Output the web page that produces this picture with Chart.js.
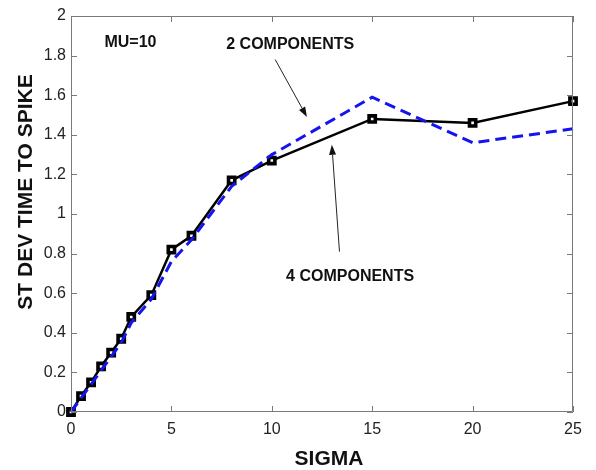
<!DOCTYPE html>
<html>
<head>
<meta charset="utf-8">
<script src="https://cdn.jsdelivr.net/npm/chart.js@4"></script>
<style>
  html, body { margin: 0; padding: 0; background: #fff; }
  #wrap { width: 596px; height: 470px; position: relative; }
</style>
</head>
<body>
<div id="wrap"><canvas id="c" width="596" height="470"></canvas></div>
<script>
// ---- data ----
const sigma4 = [0, 0.5, 1, 1.5, 2, 2.5, 3, 4, 5, 6, 8, 10, 15, 20, 25];
const stdev4 = [0, 0.08, 0.15, 0.23, 0.30, 0.37, 0.48, 0.59, 0.82, 0.89, 1.17, 1.27, 1.48, 1.46, 1.57];
const sigma2 = [0, 0.5, 1, 1.5, 2, 2.5, 3, 4, 5, 6, 8, 10, 15, 20, 25];
const stdev2 = [0, 0.07, 0.14, 0.21, 0.28, 0.35, 0.45, 0.57, 0.76, 0.87, 1.14, 1.30, 1.59, 1.36, 1.43];
const xTicks = [0, 5, 10, 15, 20, 25];
const xTickLabels = ['0', '5', '10', '15', '20', '25'];
const yTicks = [0, 0.2, 0.4, 0.6, 0.8, 1, 1.2, 1.4, 1.6, 1.8, 2];
const yTickLabels = ['0', '0.2', '0.4', '0.6', '0.8', '1', '1.2', '1.4', '1.6', '1.8', '2'];
const xTitle = 'SIGMA';
const yTitle = 'ST DEV TIME TO SPIKE';
const notes = [
  { text: 'MU=10', x: 2.96, y: 1.865 },
  { text: '2 COMPONENTS', x: 10.92, y: 1.855 },
  { text: '4 COMPONENTS', x: 13.9, y: 0.683 }
];
const arrows = [
  { x1: 10.17, y1: 1.78, x2: 11.75, y2: 1.49 },
  { x1: 13.37, y1: 0.81, x2: 12.99, y2: 1.35 }
];

const FONT = '"Liberation Sans", Arial, Helvetica, sans-serif';

const framePlugin = {
  id: 'frame',
  afterDatasetsDraw(chart) {
    const { ctx, chartArea: a, scales: { x, y } } = chart;
    ctx.save();
    ctx.strokeStyle = '#7a7a7a';
    ctx.lineWidth = 1;
    ctx.beginPath();
    ctx.rect(a.left + 0.5, a.top + 0.5, a.right - a.left - 1, a.bottom - a.top - 1);
    ctx.stroke();
    const tl = 6;
    ctx.beginPath();
    xTicks.forEach(v => {
      const px = Math.round(x.getPixelForValue(v)) + 0.5;
      ctx.moveTo(px, a.bottom); ctx.lineTo(px, a.bottom - tl);
      ctx.moveTo(px, a.top); ctx.lineTo(px, a.top + tl);
    });
    yTicks.forEach(v => {
      const py = Math.round(y.getPixelForValue(v)) + 0.5;
      ctx.moveTo(a.left, py); ctx.lineTo(a.left + tl, py);
      ctx.moveTo(a.right, py); ctx.lineTo(a.right - tl, py);
    });
    ctx.stroke();
    ctx.restore();
  },
  afterDraw(chart) {
    const { ctx, chartArea: a, scales: { x, y } } = chart;
    ctx.save();
    ctx.fillStyle = '#111';
    // axis titles
    ctx.font = 'bold 21px ' + FONT;
    ctx.textAlign = 'center';
    ctx.textBaseline = 'middle';
    ctx.fillText(xTitle, (a.left + a.right) / 2 + 7, 459);
    ctx.save();
    ctx.translate(26, 192);
    ctx.rotate(-Math.PI / 2);
    ctx.fillText(yTitle, 0, 0);
    ctx.restore();
    // annotations
    ctx.font = 'bold 16px ' + FONT;
    notes.forEach(n => ctx.fillText(n.text, x.getPixelForValue(n.x), y.getPixelForValue(n.y)));
    ctx.strokeStyle = '#222';
    ctx.lineWidth = 1;
    arrows.forEach(ar => {
      const x1 = x.getPixelForValue(ar.x1), y1 = y.getPixelForValue(ar.y1);
      const x2 = x.getPixelForValue(ar.x2), y2 = y.getPixelForValue(ar.y2);
      const ang = Math.atan2(y2 - y1, x2 - x1);
      const hl = 10, hw = 3.5;
      const bx = x2 - hl * Math.cos(ang), by = y2 - hl * Math.sin(ang);
      ctx.beginPath(); ctx.moveTo(x1, y1); ctx.lineTo(bx, by); ctx.stroke();
      ctx.beginPath();
      ctx.moveTo(x2, y2);
      ctx.lineTo(bx + hw * Math.sin(ang), by - hw * Math.cos(ang));
      ctx.lineTo(bx - hw * Math.sin(ang), by + hw * Math.cos(ang));
      ctx.closePath();
      ctx.fillStyle = '#111';
      ctx.fill();
    });
    ctx.restore();
  }
};

new Chart(document.getElementById('c'), {
  type: 'line',
  data: {
    datasets: [
      {
        label: '2 components',
        data: sigma2.map((v, i) => ({ x: v, y: stdev2[i] })),
        borderColor: '#1414f0',
        borderWidth: 3,
        borderDash: [11, 6],
        pointRadius: 0,
        fill: false,
        tension: 0,
        clip: false,
        order: 0
      },
      {
        label: '4 components',
        data: sigma4.map((v, i) => ({ x: v, y: stdev4[i] })),
        borderColor: '#000',
        borderWidth: 2.5,
        pointStyle: 'rect',
        pointRadius: 4.4,
        pointBorderWidth: 3.6,
        pointBorderColor: '#000',
        pointBackgroundColor: '#fff',
        fill: false,
        tension: 0,
        clip: false,
        order: 1
      }
    ]
  },
  options: {
    responsive: false,
    animation: false,
    events: [],
    layout: { padding: { top: 16, right: 23, left: 0, bottom: 0 } },
    plugins: { legend: { display: false }, tooltip: { enabled: false } },
    scales: {
      x: {
        type: 'linear', min: 0, max: 25,
        afterBuildTicks: s => { s.ticks = xTicks.map(v => ({ value: v })); },
        afterFit: s => { s.height = 58; },
        grid: { display: false, drawTicks: false },
        border: { display: false },
        ticks: {
          padding: 8,
          color: '#222',
          font: { family: FONT, size: 16 },
          maxRotation: 0,
          callback: (v) => xTickLabels[xTicks.indexOf(v)] ?? ''
        },
        title: { display: false }
      },
      y: {
        type: 'linear', min: 0, max: 2,
        afterBuildTicks: s => { s.ticks = yTicks.map(v => ({ value: v })); },
        afterFit: s => { s.width = 71; },
        grid: { display: false, drawTicks: false },
        border: { display: false },
        ticks: {
          padding: 5,
          color: '#222',
          font: { family: FONT, size: 16 },
          callback: (v) => { const i = yTicks.findIndex(t => Math.abs(t - v) < 1e-9); return i >= 0 ? yTickLabels[i] : ''; }
        },
        title: { display: false }
      }
    }
  },
  plugins: [framePlugin]
});
</script>
</body>
</html>
